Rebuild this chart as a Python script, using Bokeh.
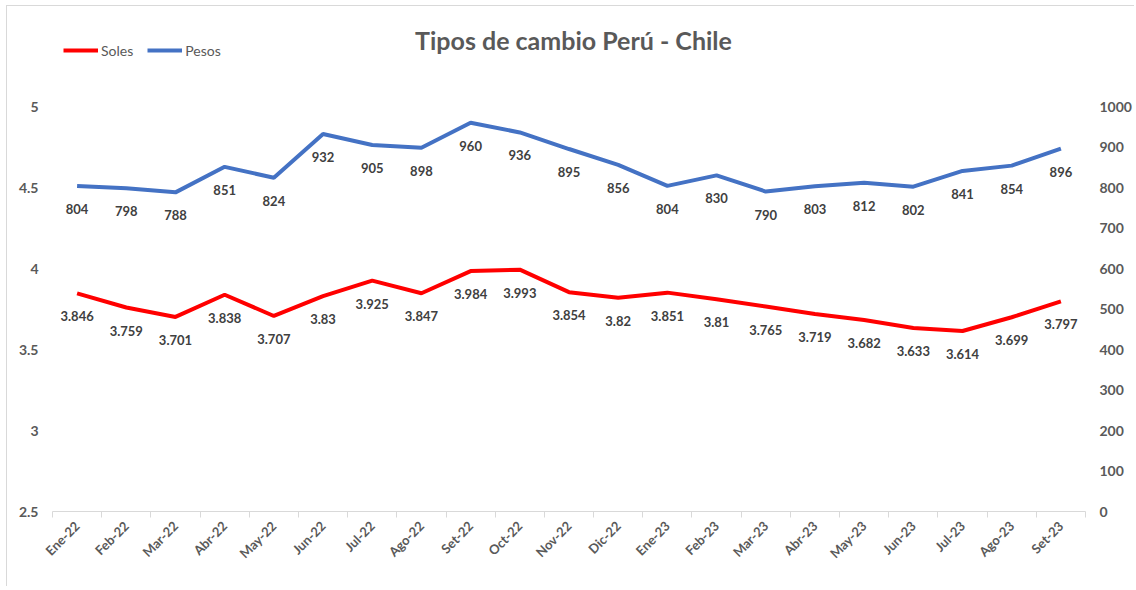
from bokeh.plotting import figure
from bokeh.models import (Range1d, LinearAxis, FixedTicker, CustomJSTickFormatter,
                          ColumnDataSource, LabelSet, Label)
from bokeh.embed import file_html
from bokeh.resources import INLINE
from bokeh.core.properties import value

months = ["Ene-22", "Feb-22", "Mar-22", "Abr-22", "May-22", "Jun-22", "Jul-22",
          "Ago-22", "Set-22", "Oct-22", "Nov-22", "Dic-22", "Ene-23", "Feb-23",
          "Mar-23", "Abr-23", "May-23", "Jun-23", "Jul-23", "Ago-23", "Set-23"]
soles = [3.846, 3.759, 3.701, 3.838, 3.707, 3.83, 3.925, 3.847, 3.984, 3.993, 3.854,
         3.82, 3.851, 3.81, 3.765, 3.719, 3.682, 3.633, 3.614, 3.699, 3.797]
pesos = [804, 798, 788, 851, 824, 932, 905, 898, 960, 936, 895, 856, 804, 830, 790,
         803, 812, 802, 841, 854, 896]
left_ticks = [2.5, 3, 3.5, 4, 4.5, 5]
right_ticks = [0, 100, 200, 300, 400, 500, 600, 700, 800, 900, 1000]

FONT = "Lato"
GRAY = "#595959"
LBL = "#404040"

n = len(months)
xs = [i + 0.5 for i in range(n)]
src = ColumnDataSource(dict(x=xs, soles=soles, pesos=pesos,
                            soles_txt=[str(v) for v in soles],
                            pesos_txt=[str(v) for v in pesos]))

# layout: frame fills the top of the figure; the axis ranges are extended upward
FW, FH = 1033, 505
AXIS_PX = 405  # pixel height of the 2.5..5 span
y_end = 2.5 + FH * (5 - 2.5) / AXIS_PX
p_end = FH * 1000 / AXIS_PX

p = figure(width=1125, height=580, output_backend="svg", toolbar_location=None,
           x_range=Range1d(0, n), y_range=Range1d(2.5, y_end),
           frame_width=FW, frame_height=FH, min_border=0,
           min_border_left=45, min_border_right=47, min_border_top=0, min_border_bottom=75,
           x_axis_type=None, y_axis_type=None)
p.extra_y_ranges = {"pesos": Range1d(0, p_end)}
p.grid.visible = False
p.outline_line_color = None
p.background_fill_color = "white"
p.border_fill_color = "white"
p.styles = {"border-left": "1px solid #d9d9d9", "border-top": "1px solid #d9d9d9",
            "margin-left": "6px", "margin-top": "5px"}

# x axis
xax = LinearAxis(ticker=FixedTicker(ticks=xs, minor_ticks=list(range(n + 1))),
                 formatter=CustomJSTickFormatter(args=dict(m=months),
                                                 code="return m[Math.round(tick - 0.5)];"))
xax.axis_line_color = "#d9d9d9"
xax.major_tick_line_color = None
xax.minor_tick_line_color = "#d9d9d9"
xax.minor_tick_out = 6
xax.minor_tick_in = 0
xax.major_label_orientation = 0.785398
xax.major_label_text_font = FONT
xax.major_label_text_font_style = "bold"
xax.major_label_text_font_size = "13px"
xax.major_label_text_color = GRAY
xax.major_label_standoff = 6
p.add_layout(xax, "below")

# left axis
lax = LinearAxis(ticker=FixedTicker(ticks=left_ticks),
                 formatter=CustomJSTickFormatter(code="return tick.toString();"))
lax.axis_line_color = None
lax.major_tick_line_color = None
lax.minor_tick_line_color = None
lax.major_label_text_font = FONT
lax.major_label_text_font_style = "bold"
lax.major_label_text_font_size = "14px"
lax.major_label_text_color = GRAY
lax.major_label_standoff = 8
p.add_layout(lax, "left")

# right axis
rax = LinearAxis(y_range_name="pesos", ticker=FixedTicker(ticks=right_ticks))
rax.axis_line_color = None
rax.major_tick_line_color = None
rax.minor_tick_line_color = None
rax.major_label_text_font = FONT
rax.major_label_text_font_style = "bold"
rax.major_label_text_font_size = "14px"
rax.major_label_text_color = GRAY
rax.major_label_standoff = 8
p.add_layout(rax, "right")

r1 = p.line("x", "soles", source=src, color="#ff0000", line_width=4, legend_label="Soles")
r2 = p.line("x", "pesos", source=src, color="#4472c4", line_width=4,
            y_range_name="pesos", legend_label="Pesos")

for col, txt, rng in [("soles", "soles_txt", "default"), ("pesos", "pesos_txt", "pesos")]:
    ls = LabelSet(x="x", y=col, text=txt, source=src, y_range_name=rng,
                  y_offset=-23, text_align="center", text_baseline="middle",
                  text_font=value(FONT), text_font_style="bold",
                  text_font_size="13px", text_color=LBL)
    p.add_layout(ls)

title = Label(x=521, y=472, x_units="screen", y_units="screen",
              text="Tipos de cambio Perú - Chile", text_align="center",
              text_baseline="middle", text_font=FONT, text_font_style="bold",
              text_font_size="25px", text_color=GRAY)
p.add_layout(title)

lg = p.legend[0]
lg.orientation = "horizontal"
lg.location = (11, 451)
lg.border_line_color = None
lg.background_fill_alpha = 0
lg.padding = 0
lg.margin = 0
lg.spacing = 14
lg.glyph_width = 35
lg.label_standoff = 3
lg.label_text_font = FONT
lg.label_text_font_size = "14px"
lg.label_text_color = GRAY

open("out.html", "w").write(file_html(p, INLINE))
